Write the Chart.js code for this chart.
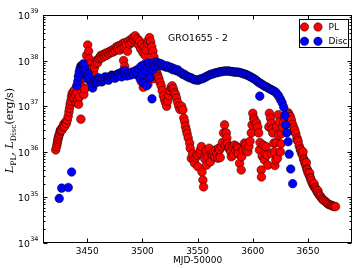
<!DOCTYPE html>
<html><head><meta charset="utf-8">
<style>html,body{margin:0;padding:0;background:#fff;}canvas{display:block;}</style>
<script src="https://cdn.jsdelivr.net/npm/chart.js@4/dist/chart.umd.min.js"></script>
</head><body>
<canvas id="c" width="357" height="268"></canvas>
<script>
const chartTitle = 'GRO1655 - 2';
const xLabel = 'MJD-50000';
const seriesNames = ['PL', 'Disc'];
const xTicks = [3450, 3500, 3550, 3600, 3650];
const yTicks = [1e34, 1e35, 1e36, 1e37, 1e38, 1e39];
const yTickExps = ['34', '35', '36', '37', '38', '39'];

const plMJD = [
3421.5,3422.3,3422.8,3423.2,3423.6,3424.0,3424.5,3425.0,3425.5,3426.0,3426.5,3427.2,3428.0,3428.8,3429.6,3430.4,3431.2,3432.0,3432.8,3433.5,
3434.0,3434.6,3435.2,3435.8,3436.4,3437.0,3437.6,3438.2,3438.8,3439.4,3440.0,3440.8,3441.5,3442.2,3443.0,3444.3,3445.0,3445.5,3446.0,3446.5,
3447.0,3447.5,3448.0,3448.5,3449.5,3450.5,3451.3,3452.0,3452.8,3453.5,3454.3,3455.0,3455.8,3456.6,3457.5,3458.5,3459.5,3460.5,3461.5,3462.5,
3463.5,3464.5,3465.5,3466.5,3467.5,3468.5,3469.5,3470.5,3471.5,3472.5,3473.5,3474.5,3475.5,3476.5,3477.5,3478.5,3479.5,3480.5,3481.5,3482.5,
3483.0,3483.5,3484.0,3484.5,3485.5,3486.5,3487.5,3488.5,3489.5,3490.5,3491.5,3492.5,3493.5,3494.5,3495.0,3495.5,3496.5,3497.0,3497.5,3498.5,
3499.0,3499.5,3500.5,3500.8,3501.5,3502.0,3502.5,3503.5,3503.8,3504.5,3505.0,3505.5,3506.5,3506.8,3507.5,3508.0,3508.5,3509.5,3510.0,3510.5,
3511.5,3512.5,3513.5,3514.0,3515.0,3516.0,3517.0,3518.0,3519.0,3520.0,3521.0,3522.0,3523.0,3524.0,3525.0,3526.0,3527.0,3528.0,3529.0,3530.0,
3531.0,3532.0,3533.0,3534.0,3535.5,3536.7,3537.5,3538.3,3539.0,3539.8,3540.5,3541.5,3542.8,3543.3,3544.3,3545.5,3546.5,3547.3,3548.5,3549.5,
3550.3,3551.5,3552.5,3553.4,3554.0,3554.8,3555.4,3556.5,3557.9,3558.0,3559.3,3560.5,3561.5,3562.5,3563.8,3564.5,3565.5,3566.5,3567.5,3568.4,
3569.0,3569.9,3570.5,3571.5,3572.5,3573.5,3574.4,3575.0,3576.0,3576.5,3577.0,3578.0,3578.9,3580.0,3580.5,3581.5,3582.5,3583.4,3584.5,3585.5,
3586.4,3587.0,3588.0,3589.5,3590.0,3591.0,3592.5,3593.5,3594.0,3595.5,3596.5,3597.5,3598.6,3599.3,3600.0,3600.8,3601.5,3602.5,3603.5,3604.5,
3605.3,3606.0,3606.5,3607.6,3607.8,3608.5,3609.6,3610.5,3611.5,3612.0,3613.0,3613.6,3614.5,3615.0,3616.0,3616.6,3616.8,3617.5,3618.0,3619.0,
3619.6,3620.0,3620.8,3621.0,3621.5,3622.3,3623.0,3623.3,3624.0,3625.0,3625.5,3626.0,3627.0,3628.0,3629.0,3630.0,3631.0,3632.0,3632.5,3633.0,
3634.0,3634.5,3635.0,3636.0,3637.0,3637.5,3638.0,3639.0,3640.0,3640.4,3641.0,3642.0,3643.0,3643.3,3644.0,3645.0,3645.5,3646.0,3646.4,3647.0,
3648.0,3648.5,3649.0,3649.4,3650.0,3651.0,3651.5,3652.0,3652.4,3653.0,3654.0,3655.0,3655.5,3656.0,3656.9,3657.5,3658.5,3659.0,3659.5,3660.5,
3661.4,3662.5,3663.5,3664.5,3665.9,3667.0,3668.0,3669.0,3670.4,3671.5,3672.5,3673.5,3674.9
];
const plLum = [
1.1e36,1.3e36,1.5e36,1.7e36,1.9e36,2.1e36,2.3e36,2.5e36,2.8e36,3.0e36,3.2e36,3.0e36,3.5e36,4.0e36,3.6e36,4.5e36,4.2e36,5.0e36,6.0e36,7.5e36,
9.0e36,1.1e37,1.3e37,1.6e37,1.9e37,1.7e37,2.1e37,1.5e37,2.3e37,1.8e37,1.2e37,2.0e37,1.4e37,1.1e37,1.6e37,5.2e36,2.2e37,4.0e37,2.6e37,6.0e37,
1.8e37,5.0e37,2.4e37,8.0e37,1.3e38,2.2e38,1.6e38,1.1e38,8.5e37,6.5e37,5.0e37,4.2e37,5.5e37,7.0e37,8.5e37,1.0e38,9.0e37,1.1e38,1.2e38,1.3e38,
1.15e38,1.35e38,1.25e38,1.45e38,1.3e38,1.5e38,1.4e38,1.6e38,1.5e38,1.7e38,1.55e38,1.8e38,1.65e38,2.0e38,1.8e38,2.1e38,1.7e38,2.2e38,1.9e38,2.4e38,
1.0e38,2.0e38,7.5e37,2.5e38,2.2e38,1.6e38,2.7e38,2.3e38,2.9e38,2.5e38,3.2e38,2.8e38,3.5e38,2.6e38,6.0e37,3.0e38,2.2e38,4.5e37,2.7e38,1.8e38,
3.5e37,2.3e38,1.5e38,2.6e37,2.0e38,3.2e37,1.3e38,1.7e38,4.0e37,2.4e38,3.0e37,2.8e38,3.2e38,5.0e37,2.6e38,6.5e37,2.0e38,1.6e38,4.0e37,1.2e38,
8.0e37,6.0e37,5.0e37,4.5e37,4.0e37,3.3e37,2.8e37,2.2e37,1.7e37,1.4e37,1.2e37,1.0e37,1.3e37,1.7e37,2.2e37,2.6e37,2.8e37,2.4e37,2.0e37,1.8e37,
1.5e37,1.2e37,1.0e37,8.5e36,1.0e37,8.3e36,5.5e36,4.6e36,3.6e36,3.0e36,2.5e36,2.0e36,1.55e36,1.2e36,7.2e35,9.0e35,6.5e35,5.6e35,7.5e35,8.5e35,
4.7e35,9.5e35,1.1e36,1.3e36,3.6e35,2.4e35,1.7e35,7.0e35,1.1e36,5.1e35,7.8e35,1.2e36,6.0e35,9.0e35,8.5e35,1.0e36,7.8e35,1.1e36,9.0e35,7.2e35,
1.2e36,1.1e36,7.5e35,1.3e36,1.6e36,2.6e36,3.9e36,1.4e36,2.6e36,2.0e36,1.5e36,1.2e36,1.3e36,1.0e36,7.8e35,1.3e36,8.5e35,1.4e36,1.1e36,1.3e36,
1.2e36,9.0e35,5.6e35,4.0e35,7.8e35,1.1e36,1.55e36,1.4e36,1.1e36,1.0e36,1.3e36,1.7e36,2.6e36,3.9e36,7.0e36,5.5e36,5.0e36,4.0e36,4.3e36,3.5e36,
2.6e36,1.1e36,1.6e36,4.0e35,2.8e35,8.0e35,1.4e36,6.6e35,9.0e35,1.3e36,8.5e35,5.1e35,3.5e36,7.0e36,5.5e36,4.2e36,9.3e35,3.2e36,2.6e36,1.55e36,
1.0e36,5.0e35,6.6e35,1.6e36,3.5e36,7.2e35,6.5e36,2.3e36,4.5e36,1.0e36,1.5e36,2.5e36,3.5e36,4.5e36,5.5e36,6.5e36,7.0e36,7.2e36,5.5e36,6.5e36,
5.9e36,4.5e36,5.0e36,4.0e36,3.4e36,2.8e36,3.0e36,2.5e36,2.0e36,1.8e36,1.7e36,1.35e36,1.15e36,1.1e36,9.5e35,8.5e35,1.0e36,7.0e35,6.6e35,5.8e35,
5.0e35,5.8e35,4.2e35,4.0e35,3.5e35,3.1e35,3.4e35,2.7e35,2.6e35,2.3e35,2.0e35,1.8e35,2.0e35,1.65e35,1.6e35,1.45e35,1.3e35,1.4e35,1.2e35,1.1e35,
1.05e35,9.5e34,9.0e34,8.5e34,8.1e34,7.6e34,7.2e34,7.0e34,6.8e34,6.6e34,6.5e34,6.3e34,6.3e34
];

const discMJD = [
3424.7,3426.9,3432.9,3435.9,
3440.5,3441.5,3442.0,3442.8,3443.5,3444.3,3445.0,3445.8,3446.5,3447.3,3448.0,3448.8,3449.5,3450.3,3451.0,3452.0,3453.0,3454.0,3455.0,3456.0,3457.0,
3458.0,3458.7,3459.5,3460.3,3461.0,3462.5,3463.2,3464.0,3465.5,3466.3,3467.0,3468.5,3469.3,3470.0,3471.5,3472.3,3473.0,3474.5,3475.3,3476.0,3477.5,
3478.3,3479.0,3480.5,3481.3,3482.0,3483.5,3484.3,3485.0,3486.0,3487.5,3489.0,3490.5,3492.0,3493.5,3495.0,3496.5,3498.0,3499.0,3500.0,3501.0,3502.0,
3503.0,3504.0,3505.0,3506.0,3507.0,3508.0,3508.7,3509.5,3510.5,3511.5,3512.5,3513.5,3514.5,3515.5,3517.0,3518.5,3520.0,3521.5,3523.0,3524.5,3526.0,
3527.5,3529.0,3530.5,3532.0,3533.5,3535.0,3536.5,3538.0,3539.5,3541.0,3542.5,3544.0,3545.5,3547.0,3548.5,3550.0,3551.5,3553.0,3554.5,3556.0,3557.5,
3559.0,3560.5,3562.0,3563.5,3565.0,3566.5,3568.0,3569.5,3571.0,3572.5,3574.0,3575.5,3577.0,3578.5,3580.0,3581.5,3583.0,3584.5,3586.0,3587.5,3589.0,
3590.5,3592.0,3593.5,3595.0,3596.5,3598.0,3599.5,3601.0,3602.5,3604.0,3605.5,3606.3,3607.0,3608.5,3610.0,3611.5,3613.0,3614.5,3616.0,3617.5,3619.0,
3620.5,3622.0,3623.5,3625.0,3626.5,3628.0,3629.0,3629.8,3630.7,3632.0,3632.9,3634.3,3636.1
];
const discLum = [
9.5e34,1.6e35,1.65e35,3.6e35,
2.8e37,3.5e37,4.5e37,5.6e37,6.6e37,7.6e37,7.1e37,7.9e37,8.5e37,7.6e37,6.3e37,5.2e37,4.5e37,4.0e37,5.0e37,4.2e37,3.5e37,3.2e37,2.5e37,3.2e37,3.5e37,
3.7e37,3.3e37,3.55e37,4.2e37,3.8e37,3.6e37,3.4e37,4.0e37,3.8e37,4.4e37,4.2e37,4.0e37,3.7e37,4.4e37,4.2e37,4.8e37,4.6e37,4.4e37,4.1e37,4.8e37,4.6e37,
5.2e37,5.0e37,4.8e37,4.4e37,5.75e37,5.25e37,6.0e37,5.0e37,4.6e37,5.25e37,4.8e37,5.6e37,5.0e37,6.0e37,5.25e37,6.6e37,4.0e37,7.6e37,5.0e37,3.2e37,8.3e37,
6.0e37,2.8e37,7.1e37,8.9e37,4.2e37,7.9e37,1.45e37,6.3e37,8.9e37,7.6e37,9.3e37,8.3e37,8.9e37,7.9e37,8.5e37,7.6e37,7.9e37,7.2e37,7.6e37,6.9e37,7.1e37,
6.3e37,6.6e37,6.0e37,6.3e37,5.6e37,5.5e37,5.0e37,5.0e37,4.6e37,4.5e37,4.2e37,4.2e37,4.0e37,3.8e37,3.8e37,3.7e37,3.8e37,4.0e37,4.0e37,4.2e37,4.4e37,
4.6e37,4.8e37,5.0e37,5.1e37,5.25e37,5.4e37,5.5e37,5.6e37,5.75e37,5.75e37,5.9e37,5.9e37,5.9e37,5.9e37,5.75e37,5.75e37,5.6e37,5.6e37,5.6e37,5.5e37,5.4e37,
5.25e37,5.1e37,5.0e37,4.8e37,4.6e37,4.4e37,4.2e37,4.0e37,3.8e37,3.55e37,3.3e37,1.66e37,3.16e37,3.0e37,2.8e37,2.7e37,2.6e37,2.45e37,2.35e37,2.25e37,2.15e37,
2.05e37,1.85e37,1.66e37,1.41e37,1.2e37,9.5e36,6.3e36,3.9e36,2.6e36,1.66e36,8.9e35,4.2e35,2.0e35
];

const FONT = 'DejaVu Sans';
const toPts = (xs, ys) => xs.map((x, i) => ({x: x, y: ys[i]}));

const decorPlugin = {
  id: 'decor',
  afterDraw(chart) {
    const ctx = chart.ctx, a = chart.chartArea, xs = chart.scales.x, ys = chart.scales.y;
    ctx.save();
    ctx.strokeStyle = '#000';
    ctx.lineWidth = 1;
    const L = Math.round(a.left) + 0.5, R = Math.round(a.right) - 0.5;
    const T = Math.round(a.top) + 0.5, B = Math.round(a.bottom) - 0.5;
    ctx.beginPath();
    xTicks.forEach(v => {
      const px = Math.round(xs.getPixelForValue(v)) + 0.5;
      ctx.moveTo(px, B); ctx.lineTo(px, B - 4);
      ctx.moveTo(px, T); ctx.lineTo(px, T + 4);
    });
    yTicks.forEach((d, i) => {
      const py = Math.round(ys.getPixelForValue(d)) + 0.5;
      ctx.moveTo(L, py); ctx.lineTo(L + 4, py);
      ctx.moveTo(R, py); ctx.lineTo(R - 4, py);
      if (i < yTicks.length - 1) {
        for (let m = 2; m < 10; m++) {
          const q = Math.round(ys.getPixelForValue(d * m)) + 0.5;
          ctx.moveTo(L, q); ctx.lineTo(L + 2, q);
          ctx.moveTo(R, q); ctx.lineTo(R - 2, q);
        }
      }
    });
    ctx.stroke();
    ctx.strokeRect(L, T, R - L, B - T);

    // y tick labels 10^n
    ctx.fillStyle = '#000';
    yTicks.forEach((d, i) => {
      const py = ys.getPixelForValue(d);
      ctx.font = '6.5px "' + FONT + '"';
      const ew = ctx.measureText(yTickExps[i]).width;
      const ex = 38.5 - ew;
      ctx.textBaseline = 'middle';
      ctx.textAlign = 'left';
      ctx.fillText(yTickExps[i], ex, py - 3.5);
      ctx.font = '9.3px "' + FONT + '"';
      ctx.textAlign = 'right';
      ctx.fillText('10', ex - 0.3, py + 1.5);
    });

    // y axis title: L_PL, L_Disc(erg/s)
    const parts = [
      {t: 'L', it: true, sub: false},
      {t: 'PL', it: false, sub: true},
      {t: ', ', it: false, sub: false},
      {t: 'L', it: true, sub: false},
      {t: 'Disc', it: false, sub: true},
      {t: '(erg/s)', it: false, sub: false}
    ];
    const base = 10;
    const fnt = (p, s) => (p.it ? 'italic ' : '') + (p.sub ? s * 0.7 : s).toFixed(2) + 'px "DejaVu Serif"';
    let tw = 0;
    parts.forEach(p => { ctx.font = fnt(p, base); tw += ctx.measureText(p.t).width; });
    const s = base * 85 / tw;
    let w = 0; const ws = [];
    parts.forEach(p => { ctx.font = fnt(p, s); const mw = ctx.measureText(p.t).width; ws.push(mw); w += mw; });
    ctx.save();
    ctx.translate(10, 130.5);
    ctx.rotate(-Math.PI / 2);
    ctx.textAlign = 'left';
    ctx.textBaseline = 'alphabetic';
    let u = -w / 2;
    parts.forEach((p, i) => {
      ctx.font = fnt(p, s);
      ctx.fillText(p.t, u, p.sub ? 5.5 : 3);
      u += ws[i];
    });
    ctx.restore();

    // title
    ctx.font = '9.3px "' + FONT + '"';
    ctx.textAlign = 'left';
    ctx.textBaseline = 'middle';
    ctx.fillText(chartTitle, 168, 39);

    // legend
    const bx = 299.5, by = 19.5, bw = 49, bh = 28;
    ctx.fillStyle = '#fff';
    ctx.fillRect(bx, by, bw, bh);
    ctx.strokeRect(bx, by, bw, bh);
    const ds = chart.data.datasets;
    [27, 41.3].forEach((yy, i) => {
      [304.5, 318].forEach(xx => {
        ctx.beginPath();
        ctx.arc(xx, yy, 4.2, 0, Math.PI * 2);
        ctx.fillStyle = ds[i].backgroundColor;
        ctx.fill();
        ctx.lineWidth = 0.5;
        ctx.strokeStyle = '#000';
        ctx.stroke();
      });
      ctx.fillStyle = '#000';
      ctx.font = '9px "' + FONT + '"';
      ctx.textAlign = 'left';
      ctx.textBaseline = 'middle';
      ctx.fillText(ds[i].label, 328.5, yy + 0.5);
    });
    ctx.restore();
  }
};

new Chart(document.getElementById('c').getContext('2d'), {
  type: 'scatter',
  data: {
    datasets: [
      {label: seriesNames[0], data: toPts(plMJD, plLum), backgroundColor: '#ff0000', borderColor: '#000', borderWidth: 0.5, pointRadius: 4.3, order: 1},
      {label: seriesNames[1], data: toPts(discMJD, discLum), backgroundColor: '#0000ff', borderColor: '#000', borderWidth: 0.5, pointRadius: 4.3, order: 0}
    ]
  },
  options: {
    responsive: false,
    animation: false,
    devicePixelRatio: 1,
    layout: {padding: {top: 15, right: 4, left: 0, bottom: 0}},
    plugins: {legend: {display: false}, tooltip: {enabled: false}},
    scales: {
      x: {
        type: 'linear', min: 3410, max: 3690,
        afterBuildTicks: s => { s.ticks = xTicks.map(v => ({value: v})); },
        grid: {display: false, drawTicks: false},
        border: {display: false},
        ticks: {color: '#000', font: {family: FONT, size: 9}, padding: 3, maxRotation: 0, autoSkip: false, callback: v => String(v)},
        title: {display: true, text: xLabel, color: '#000', font: {family: FONT, size: 9}, padding: {top: 0, bottom: 2}},
        afterFit: s => { s.height = 25; }
      },
      y: {
        type: 'logarithmic', min: 1e34, max: 1e39,
        grid: {display: false, drawTicks: false},
        border: {display: false},
        ticks: {display: false},
        afterFit: s => { s.width = 43; }
      }
    }
  },
  plugins: [decorPlugin]
});
</script>
</body></html>
